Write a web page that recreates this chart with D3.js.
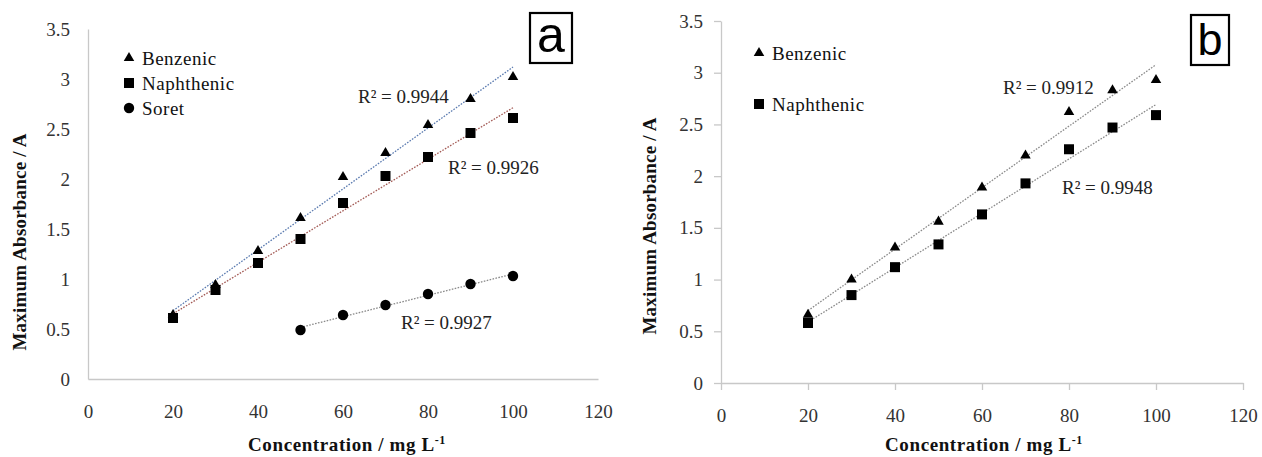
<!DOCTYPE html>
<html>
<head>
<meta charset="utf-8">
<script src="https://cdn.jsdelivr.net/npm/d3@7"></script>
<style>
  html, body { margin: 0; padding: 0; background: #fff; }
  svg { display: block; }
</style>
</head>
<body>
<svg id="chart" width="1262" height="457"></svg>
<script>
// ---------- DATA ----------
const concentrationA = [20, 30, 40, 50, 60, 70, 80, 90, 100];
const benzenicA      = [0.64, 0.94, 1.28, 1.61, 2.02, 2.26, 2.54, 2.80, 3.02];
const naphthenicA    = [0.61, 0.89, 1.16, 1.40, 1.76, 2.03, 2.22, 2.46, 2.61];
const soretConcA     = [50, 60, 70, 80, 90, 100];
const soretA         = [0.49, 0.64, 0.74, 0.85, 0.95, 1.03];

const concentrationB = [20, 30, 40, 50, 60, 70, 80, 90, 100];
const benzenicB      = [0.66, 1.00, 1.31, 1.56, 1.89, 2.20, 2.62, 2.83, 2.93];
const naphthenicB    = [0.58, 0.85, 1.12, 1.34, 1.63, 1.93, 2.26, 2.47, 2.59];

const xTicks = [0, 20, 40, 60, 80, 100, 120];
const yTicks = [0, 0.5, 1, 1.5, 2, 2.5, 3, 3.5];
const r2A = ["R² = 0.9944", "R² = 0.9926", "R² = 0.9927"];
const r2B = ["R² = 0.9912", "R² = 0.9948"];
const seriesNamesA = ["Benzenic", "Naphthenic", "Soret"];
const seriesNamesB = ["Benzenic", "Naphthenic"];

// ---------- HELPERS ----------
const svg = d3.select("#chart");
const SERIF = "Liberation Serif";
const FS = 19;
const tickColor = "#333";
const axisColor = "#c8c8c8";

function regression(xs, ys) {
  const mx = d3.mean(xs), my = d3.mean(ys);
  let sxy = 0, sxx = 0;
  xs.forEach((x, i) => { sxy += (x - mx) * (ys[i] - my); sxx += (x - mx) ** 2; });
  const b = sxy / sxx, a = my - b * mx;
  return x => a + b * x;
}

const symbols = {
  triangle: d3.symbol().type(d3.symbolTriangle).size(48),
  square: d3.symbol().type(d3.symbolSquare).size(100),
  circle: d3.symbol().type(d3.symbolCircle).size(85)
};

function serifText(sel, size) {
  return sel.style("font-family", SERIF).style("font-size", size + "px");
}

function drawPanel(cfg) {
  const g = svg.append("g");
  const x = d3.scaleLinear().domain([0, 120]).range(cfg.xRange);
  const y = d3.scaleLinear().domain([0, 3.5]).range(cfg.yRange);

  const xAxis = d3.axisBottom(x).tickValues(xTicks).tickFormat(d3.format("d"))
    .tickSizeInner(cfg.tickLen).tickSizeOuter(0).tickPadding(cfg.xPad);
  const yAxis = d3.axisLeft(y).tickValues(yTicks).tickFormat(d => String(d))
    .tickSizeInner(cfg.tickLen).tickSizeOuter(0).tickPadding(cfg.yPad);

  const gx = g.append("g").attr("transform", `translate(0,${cfg.yRange[0]})`).call(xAxis);
  const gy = g.append("g").attr("transform", `translate(${cfg.xRange[0]},0)`).call(yAxis);
  [gx, gy].forEach(a => {
    a.attr("font-family", SERIF).attr("font-size", FS);
    a.select(".domain").attr("stroke", axisColor).attr("stroke-width", 1.3);
    a.selectAll(".tick line").attr("stroke", axisColor).attr("stroke-width", 1.3);
    serifText(a.selectAll(".tick text").attr("fill", tickColor), FS);
  });

  cfg.series.forEach(s => {
    const f = regression(s.xs, s.ys);
    const x0 = d3.min(s.xs), x1 = d3.max(s.xs);
    g.append("line")
      .attr("x1", x(x0)).attr("y1", y(f(x0)))
      .attr("x2", x(x1)).attr("y2", y(f(x1)))
      .attr("stroke", s.trend).attr("stroke-width", 1.3)
      .attr("stroke-dasharray", "1.6,1.4");
    g.selectAll(null).data(s.xs.map((v, i) => [v, s.ys[i]])).enter()
      .append("path")
      .attr("d", symbols[s.shape]())
      .attr("transform", d => `translate(${x(d[0])},${y(d[1])})`)
      .attr("fill", "#000");
  });

  cfg.r2.forEach(r => {
    serifText(g.append("text").attr("x", r.x).attr("y", r.y).attr("fill", "#222"), FS).text(r.t);
  });

  cfg.legend.forEach(l => {
    g.append("path").attr("d", symbols[l.shape]())
      .attr("transform", `translate(${l.x},${l.y})`).attr("fill", "#000");
    serifText(g.append("text").attr("x", l.x + 13).attr("y", l.y + 6.5).attr("fill", "#111"), FS)
      .style("letter-spacing", "0.5px").text(l.t);
  });

  const xt = serifText(g.append("text").attr("x", cfg.xTitle[0]).attr("y", cfg.xTitle[1])
    .attr("text-anchor", "middle").attr("fill", "#111"), FS)
    .style("font-weight", "bold").style("letter-spacing", "0.6px");
  xt.append("tspan").text("Concentration / mg L");
  xt.append("tspan").attr("dy", -7).style("font-size", "12px").text("-1");

  serifText(g.append("text")
    .attr("transform", `translate(${cfg.yTitle[0]},${cfg.yTitle[1]}) rotate(-90)`)
    .attr("text-anchor", "middle").attr("fill", "#111"), FS)
    .style("font-weight", "bold").style("letter-spacing", "0.2px")
    .text("Maximum Absorbance / A");

  const b = cfg.box;
  g.append("rect").attr("x", b.x).attr("y", b.y).attr("width", b.w).attr("height", b.h)
    .attr("fill", "#fff").attr("stroke", "#000").attr("stroke-width", 2.2);
  g.append("text").attr("x", b.x + b.w / 2).attr("y", b.base)
    .attr("text-anchor", "middle").attr("fill", "#000")
    .style("font-family", "Liberation Sans")
    .style("font-size", b.fs + "px").text(b.t);
}

drawPanel({
  xRange: [88, 598], yRange: [379, 29], tickLen: 0, xPad: 26, yPad: 18,
  series: [
    { xs: concentrationA, ys: benzenicA, shape: "triangle", trend: "#5b7bb0" },
    { xs: concentrationA, ys: naphthenicA, shape: "square", trend: "#a35a55" },
    { xs: soretConcA, ys: soretA, shape: "circle", trend: "#8a8a8a" }
  ],
  r2: [
    { t: r2A[0], x: 358, y: 103 },
    { t: r2A[1], x: 448, y: 174 },
    { t: r2A[2], x: 401, y: 329 }
  ],
  legend: [
    { t: seriesNamesA[0], shape: "triangle", x: 129, y: 58 },
    { t: seriesNamesA[1], shape: "square", x: 129, y: 83 },
    { t: seriesNamesA[2], shape: "circle", x: 129, y: 108 }
  ],
  xTitle: [347, 451], yTitle: [26, 242],
  box: { x: 530, y: 13, w: 42, h: 50, t: "a", fs: 50, base: 52 }
});

drawPanel({
  xRange: [721, 1243], yRange: [383, 21], tickLen: 7, xPad: 19, yPad: 11,
  series: [
    { xs: concentrationB, ys: benzenicB, shape: "triangle", trend: "#8a8a8a" },
    { xs: concentrationB, ys: naphthenicB, shape: "square", trend: "#8a8a8a" }
  ],
  r2: [
    { t: r2B[0], x: 1003, y: 94 },
    { t: r2B[1], x: 1062, y: 194 }
  ],
  legend: [
    { t: seriesNamesB[0], shape: "triangle", x: 759, y: 53 },
    { t: seriesNamesB[1], shape: "square", x: 759, y: 104 }
  ],
  xTitle: [984, 451], yTitle: [656, 226],
  box: { x: 1191, y: 15, w: 38, h: 50, t: "b", fs: 45, base: 55 }
});
</script>
</body>
</html>
